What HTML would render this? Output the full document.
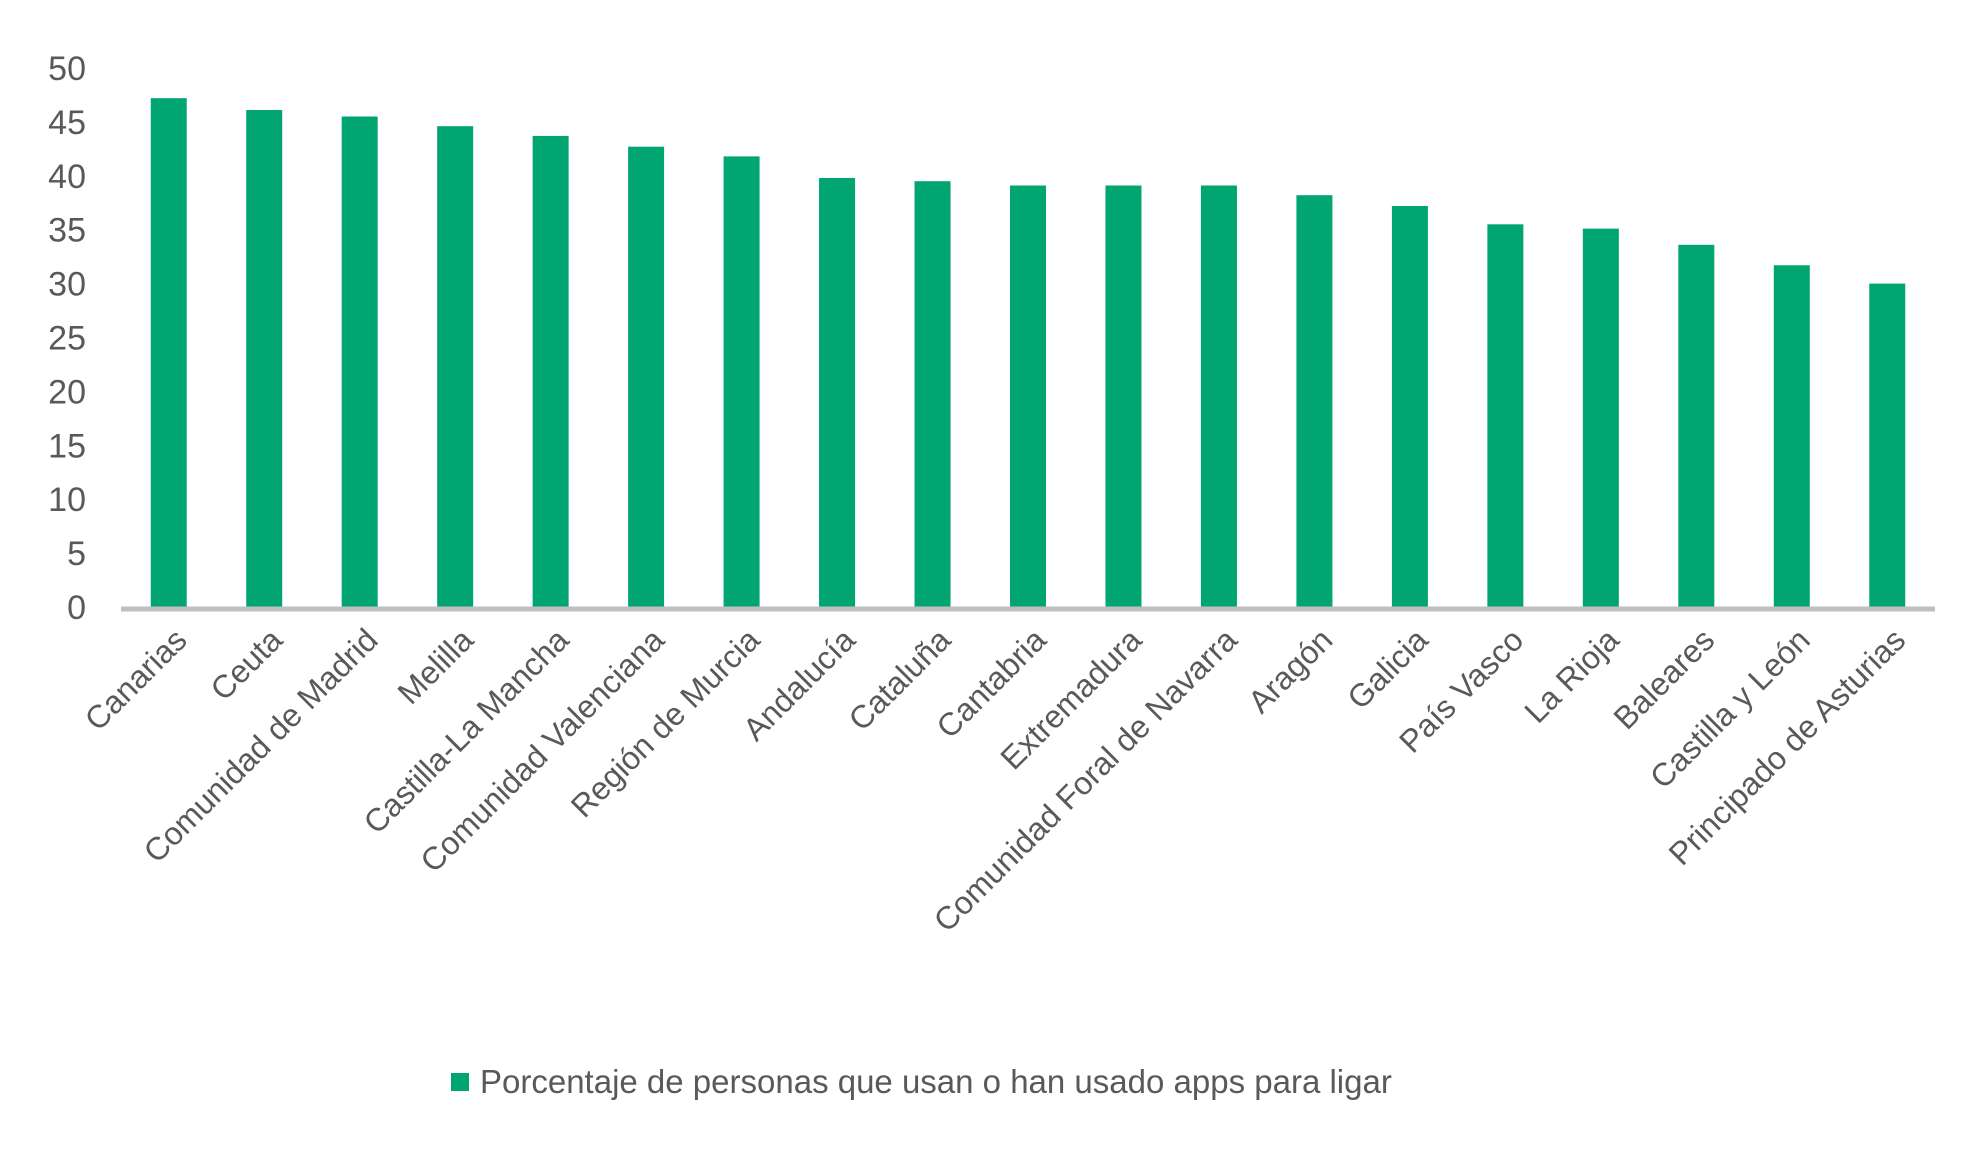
<!DOCTYPE html>
<html><head><meta charset="utf-8"><style>
html,body{margin:0;padding:0;background:#fff;}
svg{display:block;font-family:"Liberation Sans",Arial,sans-serif;}
</style></head><body>
<svg id="chart" width="1980" height="1155" viewBox="0 0 1980 1155" xmlns="http://www.w3.org/2000/svg">
<g id="yaxis"></g>
<g id="bars"></g>
<line x1="121" y1="609" x2="1935" y2="609" stroke="#bfbfbf" stroke-width="5"/>
<g id="xlabels"></g>
<g>
<rect x="451" y="1073" width="18" height="18" fill="#00a572"/>
<text x="480" y="1093" font-size="33" fill="#595959">Porcentaje de personas que usan o han usado apps para ligar</text>
</g>
</svg>
<script>
const categories = ["Canarias","Ceuta","Comunidad de Madrid","Melilla","Castilla-La Mancha","Comunidad Valenciana","Región de Murcia","Andalucía","Cataluña","Cantabria","Extremadura","Comunidad Foral de Navarra","Aragón","Galicia","País Vasco","La Rioja","Baleares","Castilla y León","Principado de Asturias"];
const values = [47.2,46.1,45.5,44.6,43.7,42.7,41.8,39.8,39.5,39.1,39.1,39.1,38.2,37.2,35.5,35.1,33.6,31.7,30.0];
const yTicks = [0,5,10,15,20,25,30,35,40,45,50];

const NS = "http://www.w3.org/2000/svg";
const x0 = 121, x1 = 1935, y0 = 607, yTop = 68, yMax = 50;
const band = (x1 - x0) / categories.length;
const barW = 36;
function yScale(v){ return y0 - (v / yMax) * (y0 - yTop); }
function xCenter(i){ return x0 + band * (i + 0.5); }

const ya = document.getElementById('yaxis');
yTicks.forEach(t => {
  const el = document.createElementNS(NS, 'text');
  
  
  el.setAttribute('x', 86);
  el.setAttribute('y', yScale(t) + 12);
  el.setAttribute('text-anchor', 'end');
  el.setAttribute('font-size', '34');
  el.setAttribute('fill', '#595959');
  el.textContent = t;
  ya.appendChild(el);
});

const bg = document.getElementById('bars');
const xl = document.getElementById('xlabels');
categories.forEach((c, i) => {
  const r = document.createElementNS(NS, 'rect');
  
  
  const yv = yScale(values[i]);
  r.setAttribute('x', xCenter(i) - barW / 2);
  r.setAttribute('y', yv);
  r.setAttribute('width', barW);
  r.setAttribute('height', y0 - yv);
  r.setAttribute('fill', '#00a572');
  bg.appendChild(r);

  const t = document.createElementNS(NS, 'text');
  
  
  const lx = xCenter(i) + 20, ly = 642;
  t.setAttribute('x', lx);
  t.setAttribute('y', ly);
  t.setAttribute('text-anchor', 'end');
  t.setAttribute('font-size', '32');
  t.setAttribute('fill', '#595959');
  t.setAttribute('transform', 'rotate(-45 ' + lx + ' ' + ly + ')');
  t.textContent = c;
  xl.appendChild(t);
});
</script>
</body></html>
